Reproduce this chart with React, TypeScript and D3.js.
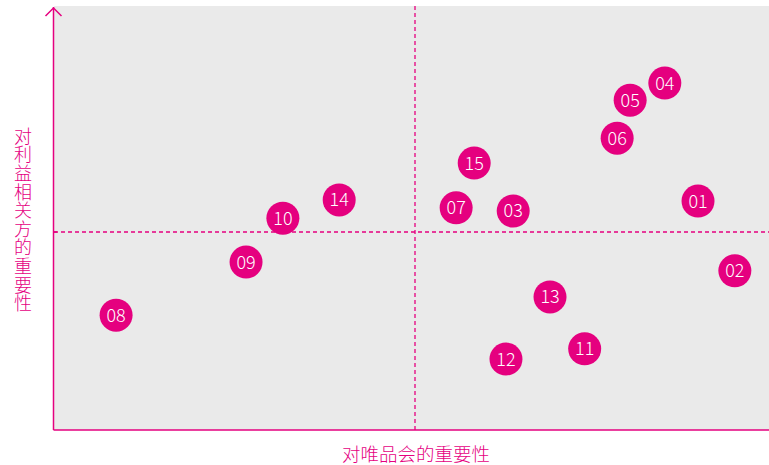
import React from "react";
import * as d3 from "d3";

const labels = ["01", "02", "03", "04", "05", "06", "07", "08", "09", "10", "11", "12", "13", "14", "15"];
const xValues = [8.92, 9.43, 6.36, 8.46, 7.98, 7.8, 5.57, 0.86, 2.66, 3.17, 7.35, 6.26, 6.87, 3.95, 5.82];
const yValues = [5.78, 4.02, 5.53, 8.76, 8.33, 7.37, 5.61, 2.9, 4.24, 5.35, 2.05, 1.79, 3.36, 5.81, 6.74];
const xTitle = "对唯品会的重要性";
const yTitle = "对利益相关方的重要性";

const W = 769;
const H = 465;
const C = "#E5007F";
const FONT = "'Noto Sans CJK SC', 'Noto Sans', sans-serif";

export default function App() {
  const x = d3.scaleLinear().domain([0, 10]).range([54, 776]);
  const y = d3.scaleLinear().domain([0, 10]).range([430, 34]);
  const x0 = x(0);
  const y0 = y(0);
  const top = 7;
  return (
    <div style={{ position: "absolute", left: 0, top: 0 }}>
      <svg width={W} height={H} style={{ display: "block" }}>
        <rect x={x0} y={6} width={W - x0} height={y0 - 6} fill="#EAEAEA" />
        <line x1={x(5)} x2={x(5)} y1={6} y2={y0} stroke={C} strokeWidth={1.3} strokeDasharray="4,3" />
        <line x1={x0} x2={W} y1={y(5)} y2={y(5)} stroke={C} strokeWidth={1.3} strokeDasharray="4,3" />
        <line x1={x0 - 0.5} x2={x0 - 0.5} y1={top} y2={y0} stroke={C} strokeWidth={1.5} />
        <line x1={x0 - 0.5} x2={W} y1={y0} y2={y0} stroke={C} strokeWidth={1.5} />
        <line x1={x0 - 0.5} x2={x0 + 3} y1={y(5)} y2={y(5)} stroke={C} strokeWidth={1.5} />
        <polyline
          points={`${x0 - 8.5},${top + 9} ${x0 - 0.5},${top + 1} ${x0 + 7.5},${top + 9}`}
          fill="none"
          stroke={C}
          strokeWidth={1.5}
        />
        {labels.map((l, i) => (
          <g key={l} transform={`translate(${x(xValues[i])},${y(yValues[i])})`}>
            <circle r={16.5} fill={C} />
            <text
              textAnchor="middle"
              dy="0.36em"
              fill="#fff"
              fontFamily={FONT}
              fontWeight={300}
              fontSize={18}
            >
              {l}
            </text>
          </g>
        ))}
        <text
          x={x(5) + 1}
          y={461}
          textAnchor="middle"
          fill={C}
          fontFamily={FONT}
          fontWeight={300}
          fontSize={18.5}
        >
          {xTitle}
        </text>
        <text
          x={23}
          y={127}
          style={{ writingMode: "vertical-rl" as any }}
          letterSpacing={0.6}
          fill={C}
          fontFamily={FONT}
          fontWeight={300}
          fontSize={18}
        >
          {yTitle}
        </text>
      </svg>
    </div>
  );
}
